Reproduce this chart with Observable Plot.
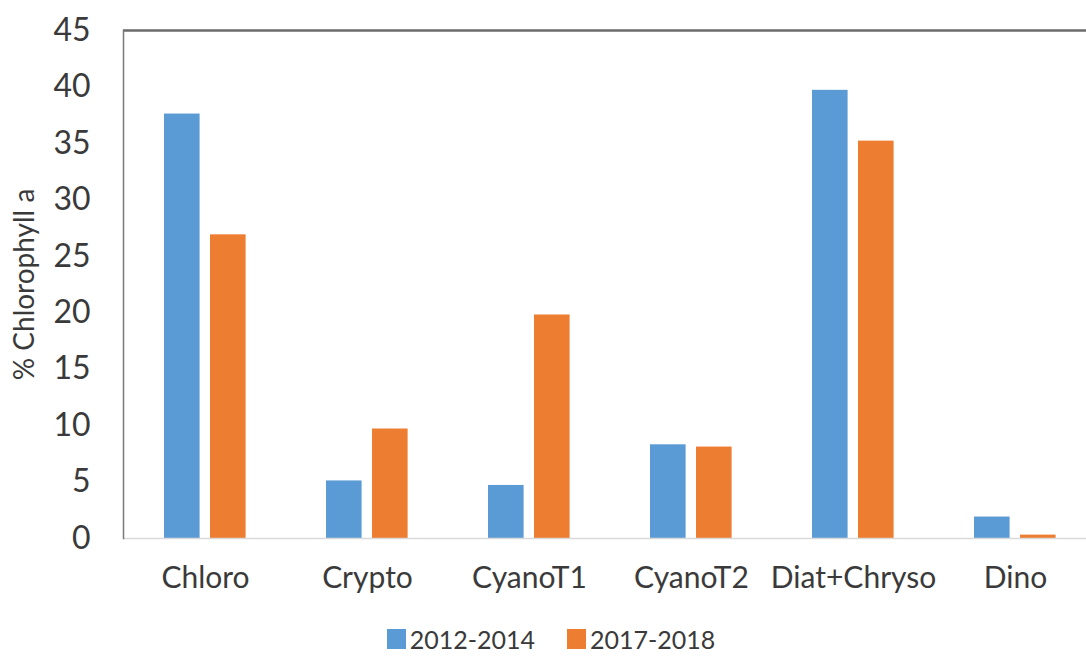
<!DOCTYPE html>
<html>
<head>
<meta charset="utf-8">
<script src="https://cdn.jsdelivr.net/npm/d3@7"></script>
<script src="https://cdn.jsdelivr.net/npm/@observablehq/plot@0.6"></script>
<style>
  html, body { margin: 0; padding: 0; background: #fff; }
  #chart { width: 1086px; overflow: hidden; }
  .legend { display: flex; justify-content: center; align-items: center; height: 37px; font-family: Lato, sans-serif; font-size: 25px; color: #3a3a3a; padding-left: 16px; }
  .legend .item { display: flex; align-items: center; margin: 0 16px; }
  .legend .sw { width: 19px; height: 20px; margin-right: 4px; }
</style>
</head>
<body>
<div id="chart"></div>
<script>
const categories = ["Chloro", "Crypto", "CyanoT1", "CyanoT2", "Diat+Chryso", "Dino"];
const seriesNames = ["2012-2014", "2017-2018"];
const values2012 = [37.6, 5.1, 4.7, 8.3, 39.7, 1.9];
const values2017 = [26.9, 9.7, 19.8, 8.1, 35.2, 0.3];
const yTicks = [0, 5, 10, 15, 20, 25, 30, 35, 40, 45];
const colors = ["#5B9BD5", "#ED7D31"];
const yLabel = "% Chlorophyll a";

const rows2012 = categories.map((c, i) => ({category: c, series: seriesNames[0], value: values2012[i]}));
const rows2017 = categories.map((c, i) => ({category: c, series: seriesNames[1], value: values2017[i]}));

const font = "Lato, sans-serif";
const plot = Plot.plot({
  width: 1086,
  height: 620,
  marginLeft: 123,
  marginRight: -11,
  marginTop: 30,
  marginBottom: 82,
  style: {fontFamily: font, color: "#3a3a3a", background: "#fff"},
  x: {domain: categories, padding: 0, axis: null},
  y: {domain: [0, 45], axis: null},
  marks: [
    Plot.barY(rows2012, {x: "category", y: "value", fill: colors[0], insetLeft: 40, insetRight: 86.4}),
    Plot.barY(rows2017, {x: "category", y: "value", fill: colors[1], insetLeft: 86, insetRight: 40.4}),
    Plot.ruleY([0], {stroke: "#d9d9d9", strokeWidth: 1.5}),
    Plot.ruleY([45], {stroke: "#6b6b6b", strokeWidth: 2.5}),
    Plot.frame({anchor: "left", stroke: "#7a7a7a", strokeWidth: 1.5}),
    Plot.axisY({ticks: yTicks, tickSize: 0, tickPadding: 33, fontSize: 32, label: null, fill: "#3a3a3a"}),
    Plot.axisX({anchor: "bottom", tickSize: 0, tickPadding: 28, fontSize: 30, label: null, fill: "#3a3a3a"}),
    Plot.text([yLabel], {frameAnchor: "left", textAnchor: "middle", rotate: -90, dx: -98, fontSize: 28, fill: "#3a3a3a"})
  ]
});
document.getElementById("chart").appendChild(plot);

const legend = document.createElement("div");
legend.className = "legend";
seriesNames.forEach((s, i) => {
  const item = document.createElement("div");
  item.className = "item";
  const sw = document.createElement("span");
  sw.className = "sw";
  sw.style.background = colors[i];
  const t = document.createElement("span");
  t.textContent = s;
  item.appendChild(sw);
  item.appendChild(t);
  legend.appendChild(item);
});
document.getElementById("chart").appendChild(legend);
</script>
</body>
</html>
